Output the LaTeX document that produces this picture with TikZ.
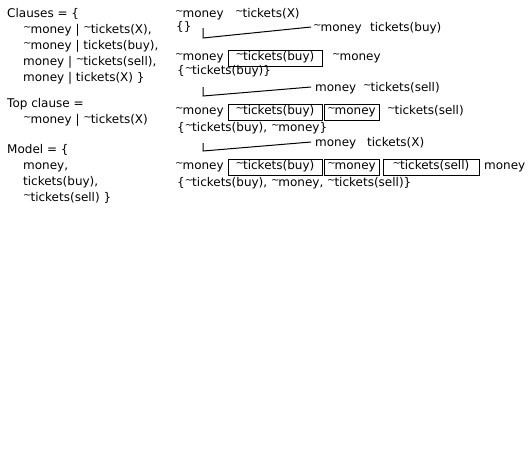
\documentclass[tikz,border=0pt]{standalone}
\usepackage{fontspec}
\setmainfont{DejaVu Sans}
\newcommand\ntil{{\fontsize{10}{10}\selectfont\raisebox{2.4pt}{\textasciitilde}}\kern-1pt}
\begin{document}
\begin{tikzpicture}[x=1pt,y=-1pt,
  txt/.style={anchor=base west,inner sep=0pt,font=\fontsize{12}{14}\selectfont},
  litbox/.style={draw,line width=1pt,inner sep=0pt,minimum height=16pt,
     text height=9pt,text depth=5pt,font=\fontsize{12}{14}\selectfont},
  conn/.style={line width=1pt}]
\useasboundingbox (0,0) rectangle (530,456);
% left column
\node[txt] (cl0) at (7,17) {Clauses = \{};
\node[txt] (cl1) at (23,33) {\ntil money | \ntil tickets(X),};
\node[txt] (cl2) at (23,49) {\ntil money | tickets(buy),};
\node[txt] (cl3) at (23,65) {money | \ntil tickets(sell),};
\node[txt] (cl4) at (23,81) {money | tickets(X) \}};
\node[txt] (tc0) at (7,107) {Top clause =};
\node[txt] (tc1) at (23,123) {\ntil money | \ntil tickets(X)};
\node[txt] (md0) at (7,153) {Model = \{};
\node[txt] (md1) at (23,169) {money,};
\node[txt] (md2) at (23,185) {tickets(buy),};
\node[txt] (md3) at (23,201) {\ntil tickets(sell) \}};
% right column
\node[txt] (r1a) at (175,17) {\ntil money};
\node[txt] (r1b) at (235,17) {\ntil tickets(X)};
\node[txt] (r2) at (176,30) {\{\}};
\node[txt] (k1a) at (313,31) {\ntil money};
\node[txt] (k1b) at (370,31) {tickets(buy)};
\node[txt] (r3a) at (175,60) {\ntil money};
\node[litbox,minimum width=94pt] (r3b) at (275,58) {\ntil tickets(buy)};
\node[txt] (r3c) at (332,60) {\ntil money};
\node[txt] (r4) at (177,74) {\{\ntil tickets(buy)\}};
\node[txt] (k2a) at (315,91) {money};
\node[txt] (k2b) at (363,91) {\ntil tickets(sell)};
\node[txt] (r5a) at (175,114) {\ntil money};
\node[litbox,minimum width=94pt] (r5b) at (275,112) {\ntil tickets(buy)};
\node[litbox,minimum width=55pt] (r5c) at (351.5,112) {\ntil money};
\node[txt] (r5d) at (387,114) {\ntil tickets(sell)};
\node[txt] (r6) at (177,131) {\{\ntil tickets(buy), \ntil money\}};
\node[txt] (k3a) at (315,146) {money};
\node[txt] (k3b) at (367,146) {tickets(X)};
\node[txt] (r7a) at (175,169) {\ntil money};
\node[litbox,minimum width=94pt] (r7b) at (275,167) {\ntil tickets(buy)};
\node[litbox,minimum width=55pt] (r7c) at (351.5,167) {\ntil money};
\node[litbox,minimum width=96pt] (r7d) at (431,167) {\ntil tickets(sell)};
\node[txt] (r7e) at (484,169) {money};
\node[txt] (r8) at (177,186) {\{\ntil tickets(buy), \ntil money, \ntil tickets(sell)\}};
% connectors
\coordinate (a1) at (203,28); \coordinate (b1) at (203,38); \coordinate (e1) at (311,27);
\coordinate (a2) at (203,87); \coordinate (b2) at (203,96); \coordinate (e2) at (311,87);
\coordinate (a3) at (203,143); \coordinate (b3) at (203,151); \coordinate (e3) at (311,142);
\draw[conn] (a1) -- (b1) -- (e1);
\draw[conn] (a2) -- (b2) -- (e2);
\draw[conn] (a3) -- (b3) -- (e3);
\end{tikzpicture}
\end{document}
